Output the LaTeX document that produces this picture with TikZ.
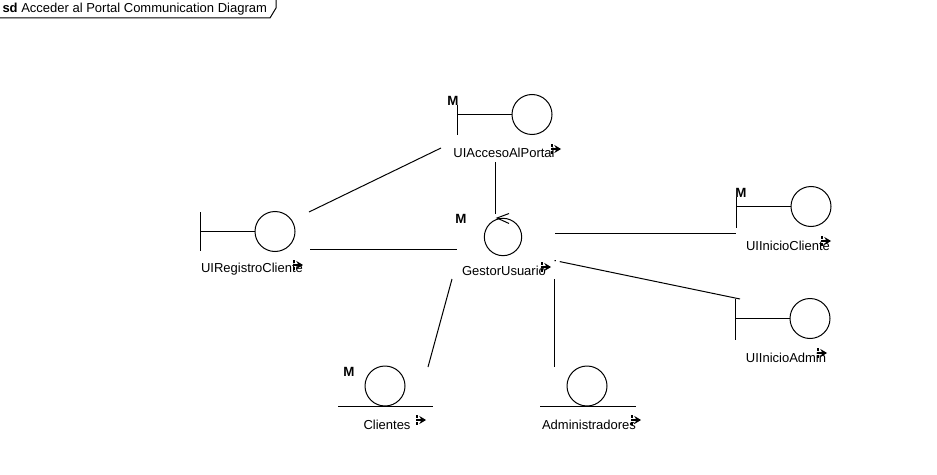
\documentclass[tikz,border=0pt]{standalone}
\usepackage{fontspec}
\setmainfont{Liberation Sans}
\usetikzlibrary{arrows.meta}
\tikzset{
  ball/.style={draw,circle,inner sep=0pt,minimum size=30pt},
  name label/.style={font=\fontsize{9.75}{11}\selectfont,inner sep=0pt},
  mark M/.style={font=\fontsize{10}{11}\selectfont\bfseries,inner sep=0pt}
}
\newcommand{\navicon}[2]{
  \draw[line width=1.2pt,dash pattern=on 2pt off 0.8pt] (#1-4,#2-5) -- (#1-4,#2+5);
  \draw[line width=1.3pt,-{Stealth[length=5pt,width=6pt]}] (#1-4,#2) -- (#1+5,#2);
}
\begin{document}
\begin{tikzpicture}[x=0.75pt,y=-0.75pt,line width=0.75pt]
      \useasboundingbox (0,0) rectangle (937,474);
      % frame tag
      \draw (0,18) -- (270,18) -- (276,8) -- (276,0);
      \node[name label,anchor=base west] (frameTag) at (2,13) {\textbf{sd} Acceder al Portal Communication Diagram};
      % balls
      \node[ball] (cAcceso) at (532,114.5) {};
      \node[ball] (cRegistro) at (275,231.5) {};
      \node[ball,minimum size=28pt] (cGestor) at (503,237) {};
      \node[ball] (cCliente) at (811,206.5) {};
      \node[ball] (cAdmin) at (810,318.5) {};
      \node[ball] (cClientes) at (385,386) {};
      \node[ball] (cAdministradores) at (587,386) {};
      % boundary bars
      \coordinate (barAcceso) at (457.5,114.5);
      \coordinate (barRegistro) at (200.5,231.5);
      \coordinate (barCliente) at (736,206.5);
      \coordinate (barAdmin) at (735.5,318.5);
      \draw (457.5,105) -- (457.5,135);
      \draw (cAcceso.west) -- (barAcceso);
      \draw (200.5,212) -- (200.5,251);
      \draw (cRegistro.west) -- (barRegistro);
      \draw (736,197) -- (736,228);
      \draw (cCliente.west) -- (barCliente);
      \draw (735.5,299) -- (735.5,340);
      \draw (cAdmin.west) -- (barAdmin);
      % entity lines
      \draw (338,406.5) -- (433,406.5);
      \draw (540,406.5) -- (636,406.5);
      % control arrow
      \draw (509,213.5) -- (497,218) -- (509,223.5);
      % labels
      \node[name label] (lAcceso) at (504,153) {UIAccesoAlPortal};
      \node[name label] (lRegistro) at (252,269) {UIRegistroCliente};
      \node[name label] (lGestor) at (504,271) {GestorUsuario};
      \node[name label] (lCliente) at (788,246) {UIInicioCliente};
      \node[name label] (lAdmin) at (786,358) {UIInicioAdmin};
      \node[name label] (lClientes) at (387,424.5) {Clientes};
      \node[name label] (lAdministradores) at (589,424.5) {Administradores};
      \node[mark M] (mAcceso) at (453,101) {M};
      \node[mark M] (mGestor) at (461,219) {M};
      \node[mark M] (mCliente) at (741,193) {M};
      \node[mark M] (mClientes) at (349,372) {M};
      % links
      \draw ([shift={(34,-19.5)}]cRegistro.center) -- ([shift={(-91,33.5)}]cAcceso.center);
      \draw ([shift={(-37,47.5)}]cAcceso.center) -- ([shift={(-8,-23)}]cGestor.center);
      \draw ([shift={(35,17.5)}]cRegistro.center) -- ([shift={(-46,12)}]cGestor.center);
      \draw ([shift={(52,-4)}]cGestor.center) -- ([shift={(-75,26.5)}]cCliente.center);
      \draw[dash pattern=on 1pt off 3pt on 200pt] ([shift={(51.5,23.5)}]cGestor.center) -- ([shift={(-70,-19.5)}]cAdmin.center);
      \draw ([shift={(51,42)}]cGestor.center) -- ([shift={(-33,-19)}]cAdministradores.center);
      \draw ([shift={(-51,42)}]cGestor.center) -- ([shift={(43,-19)}]cClientes.center);
      % navigation icons
      \navicon{556}{149}
      \navicon{298}{265}
      \navicon{546}{267}
      \navicon{826}{241}
      \navicon{822}{353}
      \navicon{421}{420}
      \navicon{636}{420}
    \end{tikzpicture}
\end{document}
